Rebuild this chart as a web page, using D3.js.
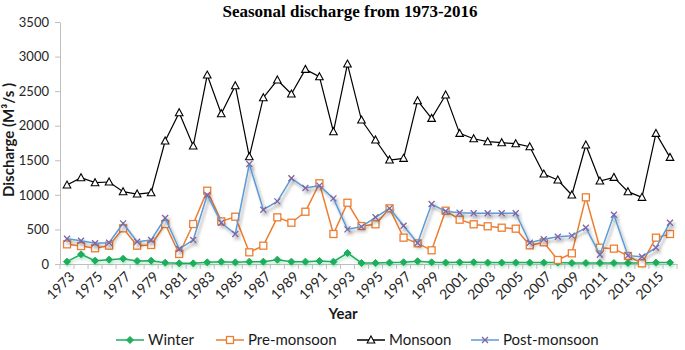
<!DOCTYPE html>
<html>
<head>
<meta charset="utf-8">
<script src="https://cdn.jsdelivr.net/npm/d3@7"></script>
<style>
  body { margin: 0; background: #fff; }
  svg text { font-family: Lato, "Open Sans", sans-serif; }
</style>
</head>
<body>
<div id="chart"></div>
<script>
var years = d3.range(1973, 2017);
var yTicks = [0, 500, 1000, 1500, 2000, 2500, 3000, 3500];

var winter = [34, 140, 48, 63, 77, 43, 48, 19, 10, 10, 24,
    34, 24, 34, 34, 63, 34, 34, 43, 34, 159, 15,
    15, 20, 25, 40, 25, 20, 25, 25, 20, 20, 20,
    20, 20, 20, 15, 15, 15, 15, 15, 15, 20, 20];
var preMonsoon = [284, 260, 227, 265, 516, 265, 275, 578, 145, 578, 1060,
    617, 684, 169, 265, 675, 597, 756, 1167, 434, 886, 549,
    574, 805, 381, 299, 198, 771, 641, 574, 545, 525, 511,
    270, 314, 58, 154, 964, 236, 222, 116, 10, 381, 434];
var monsoon = [1142, 1248, 1176, 1186, 1046, 1012, 1031, 1779, 2188, 1706, 2733,
    2174, 2579, 1552, 2405, 2661, 2458, 2815, 2709, 1913, 2892, 2082,
    1793, 1504, 1528, 2362, 2106, 2444, 1889, 1812, 1769, 1754, 1740,
    1696, 1301, 1215, 998, 1721, 1200, 1253, 1046, 964, 1889, 1542];
var postMonsoon = [366, 337, 299, 308, 588, 323, 347, 665, 217, 347, 998,
    597, 434, 1446, 785, 906, 1239, 1099, 1133, 949, 501, 540,
    675, 805, 554, 304, 868, 762, 742, 735, 735, 735, 735,
    308, 357, 395, 410, 525, 135, 713, 121, 106, 236, 597];

var series = [
    {name: 'Winter', values: winter, color: '#1fae5c', marker: 'diamond', shadow: 'glow'},
    {name: 'Pre-monsoon', values: preMonsoon, color: '#ed7d31', marker: 'square'},
    {name: 'Monsoon', values: monsoon, color: '#000000', marker: 'triangle'},
    {name: 'Post-monsoon', values: postMonsoon, color: '#5b9bd5', marker: 'cross', shadow: 'shadow'}
];

var width = 685, height = 350;
var plotLeft = 60, plotRight = 677, plotTop = 22, plotBottom = 264;

var svg = d3.select('#chart')
    .append('svg')
    .attr('width', width)
    .attr('height', height);

var defs = svg.append('defs');
defs.append('filter').attr('id', 'shadow')
    .attr('x', '-10%').attr('y', '-10%').attr('width', '120%').attr('height', '130%')
    .append('feDropShadow')
    .attr('dx', 2).attr('dy', 3).attr('stdDeviation', 1.6)
    .attr('flood-color', '#000').attr('flood-opacity', 0.35);
defs.append('filter').attr('id', 'glow')
    .attr('x', '-10%').attr('y', '-50%').attr('width', '120%').attr('height', '200%')
    .append('feDropShadow')
    .attr('dx', 1).attr('dy', 2).attr('stdDeviation', 1.5)
    .attr('flood-color', '#1fae5c').attr('flood-opacity', 0.35);

var x = d3.scaleBand()
    .domain(years)
    .range([plotLeft, plotRight])
    .padding(0);

var y = d3.scaleLinear()
    .domain([0, 3500])
    .range([plotBottom, plotTop]);

function cx(i) { return x(years[i]) + x.bandwidth() / 2; }

// title
svg.append('text')
    .attr('x', 350)
    .attr('y', 17)
    .attr('text-anchor', 'middle')
    .style('font-family', '"Liberation Serif", "Times New Roman", serif')
    .style('font-weight', 'bold')
    .style('font-size', '17px')
    .text('Seasonal discharge from 1973-2016');

// y axis
var yAxis = svg.append('g')
    .attr('transform', 'translate(' + plotLeft + ',0)')
    .call(d3.axisLeft(y).tickValues(yTicks).tickFormat(d3.format('d')).tickSize(5).tickSizeOuter(0).tickPadding(6));
yAxis.select('.domain').attr('stroke', '#bfbfbf');
yAxis.selectAll('.tick line').attr('stroke', '#bfbfbf');
yAxis.selectAll('text').style('font-size', '13px').attr('fill', '#262626');

// x axis
var xAxis = svg.append('g')
    .attr('transform', 'translate(0,' + plotBottom + ')')
    .call(d3.axisBottom(x).tickValues(years.filter(function(d) { return d % 2 == 1; })).tickSize(0).tickSizeOuter(0));
xAxis.select('.domain').attr('stroke', '#bfbfbf');
xAxis.selectAll('text')
    .attr('x', 0).attr('y', 0).attr('dy', '0.35em')
    .attr('transform', 'translate(5,10) rotate(-45)')
    .style('text-anchor', 'end')
    .style('font-size', '14px')
    .attr('fill', '#262626');

// tick marks between categories
xAxis.selectAll('.sep')
    .data(years.concat([null]))
    .enter()
    .append('line')
    .attr('class', 'sep')
    .attr('x1', function(d) { return d == null ? plotRight : x(d); })
    .attr('x2', function(d) { return d == null ? plotRight : x(d); })
    .attr('y1', 0).attr('y2', 5)
    .attr('stroke', '#bfbfbf');

// axis titles
svg.append('text')
    .attr('transform', 'translate(14,140) rotate(-90)')
    .attr('text-anchor', 'middle')
    .style('font-weight', 'bold')
    .style('font-size', '15px')
    .attr('fill', '#1a1a1a')
    .text('Discharge (M³/s )');

svg.append('text')
    .attr('x', 343)
    .attr('y', 319)
    .attr('text-anchor', 'middle')
    .style('font-weight', 'bold')
    .style('font-size', '15px')
    .attr('fill', '#1a1a1a')
    .text('Year');

function drawMarker(g, type, color, px, py) {
    if (type == 'diamond') {
        g.append('path').attr('d', 'M' + px + ',' + (py - 3.5) + 'L' + (px + 3.5) + ',' + py + 'L' + px + ',' + (py + 3.5) + 'L' + (px - 3.5) + ',' + py + 'Z')
            .attr('fill', color).attr('stroke', color);
    } else if (type == 'square') {
        g.append('rect').attr('x', px - 3.5).attr('y', py - 3.5).attr('width', 7).attr('height', 7)
            .attr('fill', '#fff').attr('stroke', color).attr('stroke-width', 1.3);
    } else if (type == 'triangle') {
        g.append('path').attr('d', 'M' + px + ',' + (py - 4) + 'L' + (px + 3.8) + ',' + (py + 3) + 'L' + (px - 3.8) + ',' + (py + 3) + 'Z')
            .attr('fill', '#fff').attr('stroke', color).attr('stroke-width', 1.1);
    } else {
        g.append('path').attr('d', 'M' + (px - 3) + ',' + (py - 3) + 'L' + (px + 3) + ',' + (py + 3) + 'M' + (px + 3) + ',' + (py - 3) + 'L' + (px - 3) + ',' + (py + 3))
            .attr('stroke', '#8064a2').attr('stroke-width', 1.3).attr('fill', 'none');
    }
}

var line = d3.line()
    .x(function(d, i) { return cx(i); })
    .y(function(d) { return y(d); });

series.forEach(function(s) {
    var g = svg.append('g');
    if (s.shadow) g.attr('filter', 'url(#' + s.shadow + ')');
    g.append('path')
        .datum(s.values)
        .attr('d', line)
        .attr('fill', 'none')
        .attr('stroke', s.color)
        .attr('stroke-width', s.name == 'Monsoon' ? 1.2 : 1.5);
    s.values.forEach(function(v, i) {
        drawMarker(g, s.marker, s.color, cx(i), y(v));
    });
});

// legend
var legendX = [116, 216, 357, 471];
var legend = svg.append('g');
series.forEach(function(s, i) {
    var lg = legend.append('g').attr('transform', 'translate(' + legendX[i] + ',340)');
    lg.append('line').attr('x1', 0).attr('x2', 28).attr('y1', 0).attr('y2', 0)
        .attr('stroke', s.color).attr('stroke-width', 1.5);
    drawMarker(lg, s.marker, s.color, 14, 0);
    lg.append('text')
        .attr('x', 32).attr('y', 0).attr('dy', '0.35em')
        .style('font-size', '15px')
        .attr('fill', '#1a1a1a')
        .text(s.name);
});
</script>
</body>
</html>
